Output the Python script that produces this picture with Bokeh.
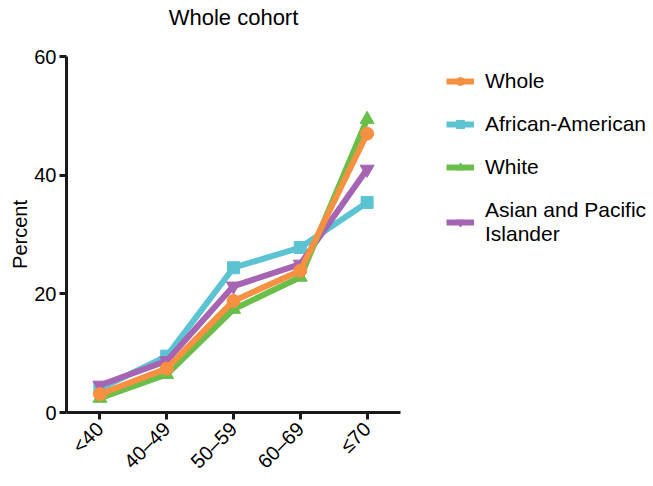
from bokeh.plotting import figure
from bokeh.models import FactorRange, Range1d, Legend, LegendItem, FixedTicker
from bokeh.embed import file_html
from bokeh.resources import INLINE
import math

categories = ["<40", "40\u201349", "50\u201359", "60\u201369", "\u226470"]
whole = [3.1, 7.4, 18.8, 23.9, 47.0]
african_american = [4.0, 9.5, 24.4, 27.8, 35.4]
white = [2.4, 6.4, 17.4, 22.8, 49.4]
asian_pacific = [4.6, 8.7, 21.3, 25.0, 41.0]
y_ticks = [0, 20, 40, 60]
title_text = "Whole cohort"

FONT = "Liberation Sans"

p = figure(x_range=FactorRange(*categories, range_padding=0),
           y_range=Range1d(0, 60), title=title_text + "\n",
           frame_width=334, frame_height=356, output_backend="svg", toolbar_location=None,
           min_border_left=66, min_border_top=56, min_border_bottom=60, min_border_right=10)
p.outline_line_color = None
p.grid.grid_line_color = None
p.background_fill_color = "white"

p.title.align = "center"
p.title.text_font = FONT
p.title.text_font_size = "22px"
p.title.text_font_style = "normal"
p.title.text_color = "black"
p.title.vertical_align = "top"
p.title.standoff = 0

for ax in (p.xaxis[0], p.yaxis[0]):
    ax.axis_line_width = 3
    ax.axis_line_color = "#1a1a1a"
    ax.major_tick_line_width = 3
    ax.major_tick_line_color = "#1a1a1a"
    ax.major_tick_in = 0
    ax.major_tick_out = 7
    ax.minor_tick_line_color = None
    ax.major_label_text_font = FONT
    ax.major_label_text_font_size = "20px"
    ax.major_label_text_color = "black"
    ax.axis_label_text_font = FONT
    ax.axis_label_text_font_style = "normal"
    ax.axis_label_text_font_size = "20px"
    ax.axis_label_text_color = "black"

p.yaxis.ticker = FixedTicker(ticks=y_ticks)
p.yaxis.axis_label = "Percent"
p.yaxis.major_label_standoff = 3
p.yaxis.axis_label_standoff = 0
p.xaxis.major_label_orientation = math.pi / 4
p.xaxis.major_label_standoff = 6

series = [
    ("African-American", african_american, "#5cc3d2", "square", 12),
    ("Asian and Pacific\nIslander", asian_pacific, "#a565b3", "inverted_triangle", 14),
    ("White", white, "#6abf4b", "triangle", 14),
    ("Whole", whole, "#f59140", "circle", 13),
]
items = {}
for name, vals, color, marker, size in series:
    l = p.line(categories, vals, line_color=color, line_width=6)
    s = p.scatter(categories, vals, marker=marker, size=size, fill_color=color, line_color=color)
    items[name] = LegendItem(label=name, renderers=[l, s])

order = ["Whole", "African-American", "White", "Asian and Pacific\nIslander"]
legend = Legend(items=[items[k] for k in order], location=(46, 166),
                label_text_font=FONT, label_text_font_size="21px", label_text_color="black",
                glyph_width=28, glyph_height=20, label_standoff=11,
                spacing=19, border_line_color=None, background_fill_alpha=0,
                margin=0, padding=0)
legend.label_height = 20
p.add_layout(legend, "right")

open("out.html", "w").write(file_html(p, INLINE))
